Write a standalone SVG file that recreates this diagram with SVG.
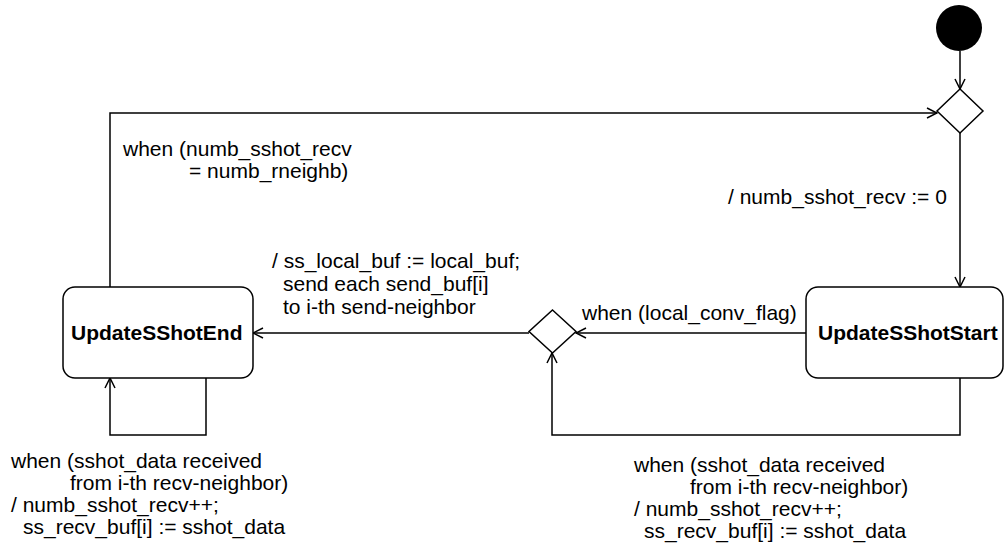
<svg xmlns="http://www.w3.org/2000/svg" width="1004" height="546" viewBox="0 0 1004 546">
<style>
.t{font-family:"Liberation Sans",Arial,Helvetica,sans-serif;font-size:21px;fill:#000}
.b{font-weight:bold}
.n{fill:#fff;stroke:#000;stroke-width:1.5}
.e{fill:none;stroke:#000;stroke-width:1.5;marker-end:url(#ah)}
</style>
<defs>
<marker id="ah" viewBox="0 0 12 12" refX="11" refY="6" markerWidth="12" markerHeight="12" markerUnits="userSpaceOnUse" orient="auto">
<path d="M1,1 L11,6 L1,11" fill="none" stroke="#000" stroke-width="1.5"/>
</marker>
</defs>
<rect width="1004" height="546" fill="#fff"/>
<g id="connectors">
<path class="e" d="M960,51 L960,89"/>
<path class="e" d="M110,287 L110,113 L937,113"/>
<path class="e" d="M960,133 L960,287"/>
<path class="e" d="M806,333 L576,333"/>
<path class="e" d="M529,333 L253,333"/>
<path class="e" d="M960,378 L960,435 L552,435 L552,353"/>
<path class="e" d="M206,378 L206,435 L110,435 L110,378"/>
</g>
<g id="labels">
<text class="t" x="123" y="156">when (numb_sshot_recv</text>
<text class="t" x="189" y="178">= numb_rneighb)</text>
<text class="t" x="728" y="204">/ numb_sshot_recv := 0</text>
<text class="t" x="272" y="268">/ ss_local_buf := local_buf;</text>
<text class="t" x="283" y="291">send each send_buf[i]</text>
<text class="t" x="283" y="314">to i-th send-neighbor</text>
<text class="t" x="582" y="320">when (local_conv_flag)</text>
<text class="t" x="11" y="468">when (sshot_data received</text>
<text class="t" x="70" y="490">from i-th recv-neighbor)</text>
<text class="t" x="11" y="512">/ numb_sshot_recv++;</text>
<text class="t" x="23" y="534">ss_recv_buf[i] := sshot_data</text>
<text class="t" x="634" y="472">when (sshot_data received</text>
<text class="t" x="690" y="494">from i-th recv-neighbor)</text>
<text class="t" x="634" y="516">/ numb_sshot_recv++;</text>
<text class="t" x="644" y="538">ss_recv_buf[i] := sshot_data</text>
</g>
<g id="initial">
<circle cx="959" cy="28" r="23" fill="#000"/>
</g>
<g id="choice1">
<path class="n" d="M960,89 L983,111 L960,133 L937,111 Z"/>
</g>
<g id="choice2">
<path class="n" d="M552.5,310 L576,331.5 L552.5,353 L529,331.5 Z"/>
</g>
<g id="UpdateSShotEnd">
<rect class="n" x="63" y="287" width="190" height="91" rx="12"/>
<text class="t b" x="71" y="340">UpdateSShotEnd</text>
</g>
<g id="UpdateSShotStart">
<rect class="n" x="806" y="287" width="197" height="91" rx="12"/>
<text class="t b" x="818" y="340">UpdateSShotStart</text>
</g>
</svg>
